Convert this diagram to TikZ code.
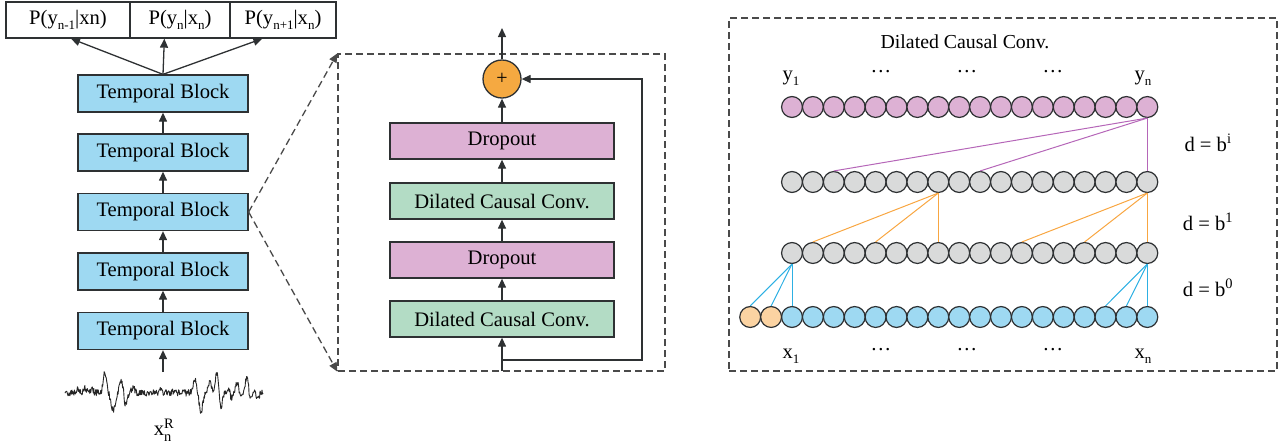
\documentclass[tikz,border=0pt]{standalone}
\usepackage{fontspec}
\setmainfont{Liberation Serif}
\usetikzlibrary{arrows.meta,calc}
\definecolor{lc}{HTML}{2E3133}
\definecolor{dc}{HTML}{4A4A4A}
\definecolor{tblue}{HTML}{9ED9F2}
\definecolor{dpink}{HTML}{DDB1D4}
\definecolor{dgreen}{HTML}{B3DCC5}
\definecolor{porange}{HTML}{F5A941}
\definecolor{cgray}{HTML}{D9DADA}
\definecolor{cpeach}{HTML}{FBD3A2}
\definecolor{lpink}{HTML}{B566B8}
\definecolor{lorange}{HTML}{F8A641}
\definecolor{lblue}{HTML}{2DB0E3}
\newcommand\fs{\fontsize{20.6}{24}\selectfont}
\newcommand\sbs[1]{\raisebox{-5pt}{\fontsize{13}{13}\selectfont #1}}
\begin{document}
\begin{tikzpicture}[x=1pt,y=-1pt,
  declare function={g(\z)=exp(-min(\z*\z,30));},
  box/.style={draw=lc, line width=1.3pt, inner sep=0pt, font=\fs},
  outbox/.style={box, fill=white, minimum height=36pt},
  tb/.style={box, fill=tblue, minimum width=170pt, minimum height=37pt},
  drop/.style={box, fill=dpink, minimum width=224pt, minimum height=36pt},
  dcc/.style={box, fill=dgreen, minimum width=224pt, minimum height=36pt},
  arr/.style={-{Triangle[length=9pt,width=8pt]}, draw=lc, line width=1.3pt},
  dsh/.style={draw=dc, line width=1.3pt, dash pattern=on 7pt off 4pt},
  cir/.style={circle, draw=lc, line width=1.2pt, minimum size=20.9pt, inner sep=0pt},
  lab/.style={font=\fs, inner sep=0pt},
  conn/.style={line width=1pt}]
\useasboundingbox (0,0) rectangle (1282,445);

% ---------- left column ----------
\node[outbox, minimum width=124pt] (ob1) at (68,20) {P(y\sbs{n-1}|xn)};
\node[outbox, minimum width=100pt] (ob2) at (180,20) {P(y\sbs{n}|x\sbs{n})};
\node[outbox, minimum width=106pt] (ob3) at (283,20) {P(y\sbs{n+1}|x\sbs{n})};

\node[tb] (tb1) at (163,93.5) {Temporal Block};
\node[tb] (tb2) at (163,152.5) {Temporal Block};
\node[tb] (tb3) at (163,212) {Temporal Block};
\node[tb] (tb4) at (163,271.5) {Temporal Block};
\node[tb] (tb5) at (163,331) {Temporal Block};

\draw[arr] (tb1.north) -- ($(ob1.south)+(3,0)$);
\draw[arr] (tb1.north) -- ($(ob2.south west)+(35,0)$);
\draw[arr] (tb1.north) -- ($(ob3.south west)+(33,0)$);
\draw[arr] (tb2.north) -- (tb1.south);
\draw[arr] (tb3.north) -- (tb2.south);
\draw[arr] (tb4.north) -- (tb3.south);
\draw[arr] (tb5.north) -- (tb4.south);
\coordinate (sigtop) at (163,372);
\draw[arr] (sigtop) -- (tb5.south);

\pgfmathsetseed{11}
\draw[line width=0.9pt, draw=black!85, line join=round]
  plot[domain=65:263, samples=400]
  (\x, {393 + 3.4*rand
     - 4*g((\x-78)/2) - 5*g((\x-85)/2) - 3*g((\x-92)/2)
     - 20*g((\x-105)/2.5) + 17*g((\x-113)/3) - 12*g((\x-121.5)/2.5)
     + 13*g((\x-125.5)/2) - 6*g((\x-133)/2)
     - 3*g((\x-160)/2) - 3*g((\x-175)/2)
     - 14*g((\x-195)/2.5) + 19*g((\x-201)/2.5) - 10*g((\x-210)/2.5)
     - 20*g((\x-217)/2.5) + 16*g((\x-221)/2) - 5*g((\x-228)/2)
     + 6*g((\x-232)/2) - 10*g((\x-237)/2.5) + 4*g((\x-241)/2)
     - 17*g((\x-247)/2) + 6*g((\x-250)/2) + 4*g((\x-258)/2)});
\node[lab] (xnr) at (164,430) {$\mathrm{x}_{\mathrm{n}}^{\mathrm{R}}$};

% ---------- middle panel ----------
\node[dsh, minimum width=327pt, minimum height=317pt, inner sep=0pt] (mbox) at (501.5,212.5) {};
\draw[dsh, -{Triangle[length=9pt,width=8pt]}] (tb3.east) -- (mbox.north west);
\draw[dsh, -{Triangle[length=9pt,width=8pt]}] (tb3.east) -- (mbox.south west);

\node[circle, draw=lc, line width=1.3pt, fill=porange, minimum size=38pt, inner sep=0pt, font=\fontsize{20}{22}\selectfont] (plus) at (502,79) {+};
\node[drop] (dr1) at (502,141) {Dropout};
\node[dcc] (dc1) at (502,201) {Dilated Causal Conv.};
\node[drop] (dr2) at (502,260) {Dropout};
\node[dcc] (dc2) at (502,319) {Dilated Causal Conv.};

\coordinate (out) at (502,28);
\coordinate (in) at (502,371);
\coordinate (sp) at (502,360);
\coordinate (sk) at (642,360);
\draw[arr] (plus.north) -- (out);
\draw[arr] (dr1.north) -- (plus.south);
\draw[arr] (dc1.north) -- (dr1.south);
\draw[arr] (dr2.north) -- (dc1.south);
\draw[arr] (dc2.north) -- (dr2.south);
\draw[arr] (in) -- (dc2.south);
\draw[arr] (sp) -- (sk) |- (plus.east);

% ---------- right panel ----------
\node[dsh, minimum width=548pt, minimum height=353pt, inner sep=0pt] (rbox) at (1003,194.5) {};
\node[lab, font=\fontsize{19.8}{24}\selectfont] (title) at (965,42) {Dilated Causal Conv.};

\foreach \i in {0,...,17} {
  \node[cir, fill=dpink] (a\i) at ({792+20.9*\i},107) {};
  \node[cir, fill=cgray] (b\i) at ({792+20.9*\i},182) {};
  \node[cir, fill=cgray] (c\i) at ({792+20.9*\i},253) {};
  \node[cir, fill=tblue] (d\i) at ({792+20.9*\i},317) {};
}
\node[cir, fill=cpeach] (dm2) at (750.2,317) {};
\node[cir, fill=cpeach] (dm1) at (771.1,317) {};

\foreach \t in {2,9,17} \draw[conn, lpink] (a17.south) -- (b\t.north);
\foreach \t in {1,4,7} \draw[conn, lorange] (b7.south) -- (c\t.north);
\foreach \t in {11,14,17} \draw[conn, lorange] (b17.south) -- (c\t.north);
\foreach \t in {dm2,dm1,d0} \draw[conn, lblue] (c0.south) -- (\t.north);
\foreach \t in {d15,d16,d17} \draw[conn, lblue] (c17.south) -- (\t.north);

\node[lab] (y1) at (791,78) {y\sbs{1}};
\node[lab] (yd1) at (881,72) {\dots};
\node[lab] (yd2) at (967,72) {\dots};
\node[lab] (yd3) at (1053,72) {\dots};
\node[lab] (yn) at (1143,78) {y\sbs{n}};
\node[lab] (x1) at (791,356) {x\sbs{1}};
\node[lab] (xd1) at (881,350) {\dots};
\node[lab] (xd2) at (967,350) {\dots};
\node[lab] (xd3) at (1053,350) {\dots};
\node[lab] (xn) at (1143,356) {x\sbs{n}};

\node[lab] (d2) at (1208,143) {d = b\textsuperscript{i}};
\node[lab] (d1) at (1208,222) {d = b\textsuperscript{1}};
\node[lab] (d0) at (1208,288) {d = b\textsuperscript{0}};
\end{tikzpicture}
\end{document}
